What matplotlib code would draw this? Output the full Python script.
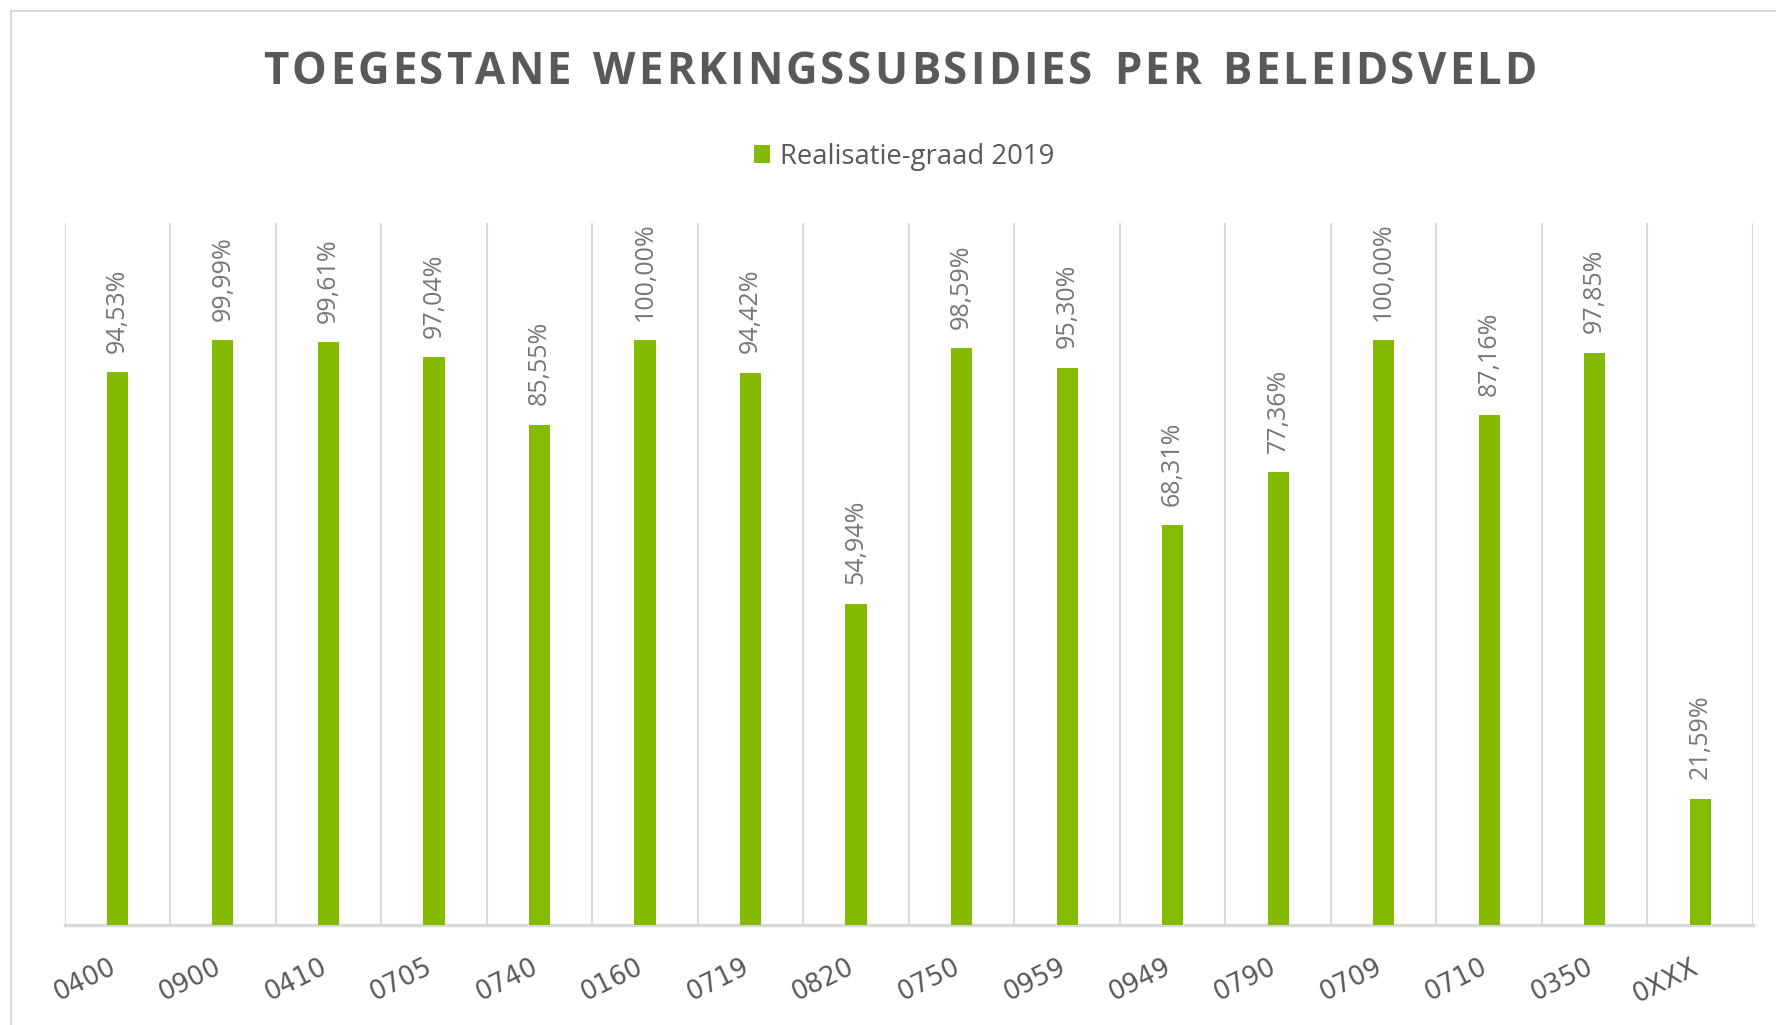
import matplotlib.pyplot as plt
from matplotlib.patches import Rectangle
from matplotlib.transforms import ScaledTranslation
import numpy as np

# Data
codes = ["0400", "0900", "0410", "0705", "0740", "0160", "0719", "0820",
         "0750", "0959", "0949", "0790", "0709", "0710", "0350", "0XXX"]
realisatie = [94.53, 99.99, 99.61, 97.04, 85.55, 100.00, 94.42, 54.94,
              98.59, 95.30, 68.31, 77.36, 100.00, 87.16, 97.85, 21.59]
series_name = "Realisatie-graad 2019"
title = "TOEGESTANE WERKINGSSUBSIDIES PER BELEIDSVELD"

green = "#84bb00"
grid_col = "#d9d9d9"
text_col = "#595959"

plt.rcParams["font.family"] = ["Open Sans", "DejaVu Sans"]

fig = plt.figure(figsize=(17.76, 10.25), dpi=100)

# light border of the chart area (cropped screenshot)
fig.patches.append(Rectangle((11 / 1776, -0.05), 1.1, 1 - 11 / 1025 + 0.05,
                             transform=fig.transFigure, fill=False,
                             edgecolor="#d9d9d9", linewidth=1.5))

ax = fig.add_axes([0.0364, 0.0976, 0.9506, 0.6848])

x = np.arange(len(codes))
bars = ax.bar(x, realisatie, width=0.2, color=green, label=series_name, zorder=3)

# data labels
for xi, v in zip(x, realisatie):
    ax.annotate(f"{v:.2f}%".replace(".", ","), (xi, v), xytext=(0, 14),
                textcoords="offset points", rotation=90, ha="center", va="bottom",
                fontsize=18, color="#767676")

ax.set_xlim(-0.5, len(codes) - 0.5)
ax.set_ylim(0, 120)
ax.set_yticks([])

ax.set_xticks(x)
ax.set_xticklabels(codes, rotation=26, ha="right", rotation_mode="anchor",
                   fontsize=18.5, color=text_col, family="DejaVu Sans")
ax.tick_params(axis="x", length=0, pad=21)
# nudge the rotated labels left so they end under the bar
shift = ScaledTranslation(-0.09, 0, fig.dpi_scale_trans)
for lab in ax.get_xticklabels():
    lab.set_transform(lab.get_transform() + shift)

# vertical gridlines between categories
ax.set_xticks(np.arange(-0.5, len(codes)), minor=True)
ax.tick_params(axis="x", which="minor", length=0)
ax.grid(axis="x", which="minor", color=grid_col, linewidth=1.5, zorder=0)

for s in ["top", "left", "right"]:
    ax.spines[s].set_visible(False)
ax.spines["bottom"].set_color(grid_col)
ax.spines["bottom"].set_linewidth(2.5)

# letter-spaced title, drawn character by character
renderer = fig.canvas.get_renderer()
title_kw = dict(fontsize=31.5, fontweight="bold", color=text_col, va="center")
widths = []
for ch in title:
    t = fig.text(0, 0, ch if ch != " " else "n", **title_kw)
    w = t.get_window_extent(renderer).width
    widths.append(w * 0.55 if ch == " " else w)
    t.remove()
target_w = 1273.0
spacing = (target_w - sum(widths)) / (len(title) - 1)
xpos = 900.0 - target_w / 2
for ch, w in zip(title, widths):
    if ch != " ":
        fig.text(xpos / 1776, 0.929, ch, ha="left", **title_kw)
    xpos += w + spacing

fig.legend(handles=[bars], labels=[series_name], loc="center",
           bbox_to_anchor=(0.509, 0.847), frameon=False, fontsize=19.8,
           labelcolor=text_col, handlelength=0.6, handleheight=0.6,
           handletextpad=0.35)

fig.savefig("out.png", dpi=100)
